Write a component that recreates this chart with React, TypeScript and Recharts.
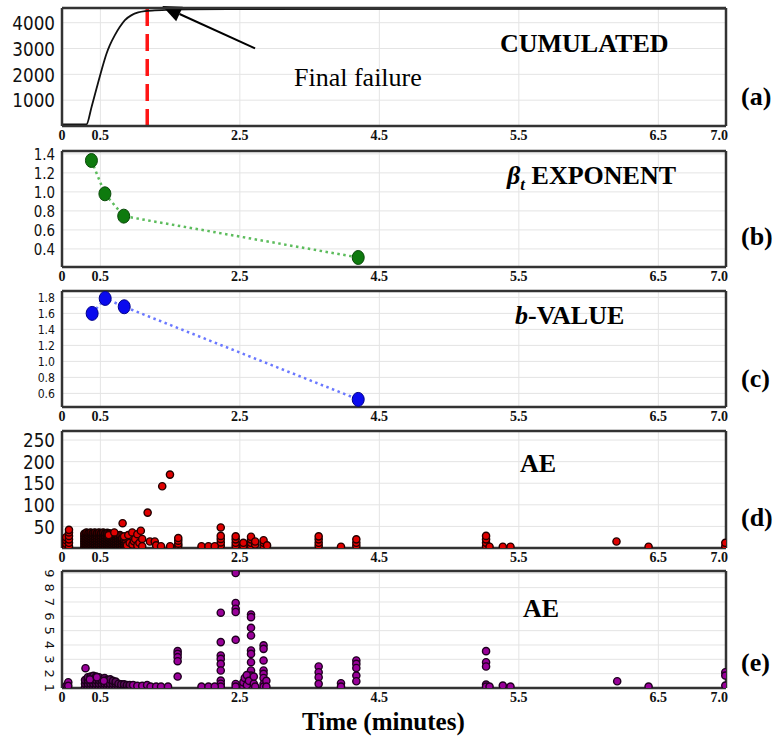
import React from 'react';
import { ComposedChart, Line, Scatter, XAxis, YAxis, CartesianGrid, ReferenceLine } from 'recharts';

// x values are in plot units; printed tick labels are the ones of the paper
const X_DOMAIN: [number, number] = [-0.05, 9.47];
const X_TICKS = [-0.05, 0.5, 2.5, 4.5, 6.5, 8.5, 9.47];
const X_LABELS = ['0', '0.5', '2.5', '4.5', '5.5', '6.5', '7.0'];

// (a) cumulated number of events
const CUM_T = [-0.05, 0.3, 0.374, 0.445, 0.517, 0.589, 0.636, 0.708, 0.78, 0.852, 0.948, 1.043, 1.139, 1.282, 1.76, 2.718, 9.47];
const CUM_N = [58, 58, 740, 1453, 2163, 2810, 3132, 3519, 3841, 4101, 4295, 4399, 4450, 4477, 4516, 4527, 4545];
const FAILURE_T = 1.172;
const ARROW_TAIL = { t: 2.718, v: 3004 };
const ARROW_TIP = { t: 1.387, v: 4643 };

// (b) beta_t exponent
const BETA_T = [0.372, 0.565, 0.835, 4.197];
const BETA_V = [1.33, 0.98, 0.745, 0.31];

// (c) b-value
const BVAL_T = [0.382, 0.569, 0.842, 4.197];
const BVAL_V = [1.6, 1.787, 1.683, 0.525];

// (d) AE amplitude: the dense block right after loading starts
const AE_D_BLOCK: [number, number[]][] = [
  [0.27, [3, 9, 15, 21, 27, 33]],
  [0.3, [2, 8, 14, 20, 26, 32, 36]],
  [0.33, [4, 10, 16, 22, 28, 34]],
  [0.36, [2, 8, 14, 20, 26, 32, 36]],
  [0.39, [4, 10, 16, 22, 28, 34]],
  [0.42, [2, 8, 14, 20, 26, 32, 36]],
  [0.45, [4, 10, 16, 22, 28, 34]],
  [0.48, [2, 8, 14, 20, 26, 32, 36]],
  [0.51, [4, 10, 16, 22, 28, 34]],
  [0.54, [2, 8, 14, 20, 26, 32, 36]],
  [0.57, [4, 10, 16, 22, 28, 34]],
  [0.6, [2, 8, 14, 20, 26, 32, 35]],
  [0.63, [4, 10, 16, 22, 28, 34]],
  [0.66, [2, 8, 14, 20, 26, 32]],
  [0.69, [4, 10, 16, 22, 28, 33]],
  [0.72, [2, 8, 14, 20, 26, 31]],
  [0.75, [4, 10, 16, 22, 28]],
  [0.78, [2, 8, 14, 20, 25, 30]],
  [0.81, [4, 10, 16, 22]],
  [0.84, [2, 8, 14, 19]],
];
// (d) other bursts, as columns, then single hits
const AE_D_BURSTS: [number, number[]][] = [
  [0.01, [3, 10, 18, 25]],
  [0.05, [4, 12, 20, 28, 36, 42]],
  [0.87, [4, 11, 18, 24]],
  [1.617, [5, 10, 17, 23]],
  [2.226, [5.5, 13, 21, 28, 47.6]],
  [2.44, [5, 12, 20, 27]],
  [2.66, [5, 12, 20, 26]],
  [2.84, [5, 12, 18]],
  [3.63, [5, 12, 20, 27]],
  [4.17, [5, 12, 20]],
  [6.03, [4, 12, 20, 28]],
  [9.46, [4, 12]],
];
const AE_D_SINGLE: [number, number][] = [
  [0.819, 57.5], [1.178, 82], [1.387, 143], [1.498, 170], [0.62, 30], [0.7, 36], [0.84, 27],
  [0.88, 6], [0.9, 30], [0.92, 12], [0.957, 36], [0.96, 8], [0.98, 16], [1.0, 21], [1.03, 32],
  [1.03, 6], [1.06, 12], [1.08, 40], [1.1, 21], [1.1, 4], [1.21, 15], [1.28, 15], [1.3, 6],
  [1.37, 4], [1.5, 4], [1.95, 4], [2.05, 4], [2.14, 4], [2.55, 5], [2.55, 12], [2.72, 8],
  [2.72, 15], [2.89, 6], [3.95, 3], [6.08, 3], [6.27, 3], [6.38, 3], [7.9, 15], [8.36, 3],
];

// (e) AE energy: dense block, bursts, single hits
const AE_E_BLOCK: [number, number[]][] = [
  [0.28, [1.05, 1.3, 1.55]],
  [0.32, [1.05, 1.3, 1.55, 1.75]],
  [0.36, [1.05, 1.3, 1.55, 1.8]],
  [0.4, [1.05, 1.3, 1.55, 1.85]],
  [0.44, [1.05, 1.3, 1.55, 1.8]],
  [0.48, [1.05, 1.3, 1.55, 1.75]],
  [0.52, [1.05, 1.3, 1.55]],
  [0.56, [1.05, 1.3, 1.55, 1.7]],
  [0.6, [1.05, 1.3, 1.55]],
  [0.64, [1.05, 1.3, 1.6]],
  [0.68, [1.05, 1.3, 1.5]],
  [0.72, [1.05, 1.3, 1.45]],
  [0.76, [1.05, 1.3]],
  [0.8, [1.05, 1.25]],
  [0.84, [1.05, 1.25]],
  [0.88, [1.05, 1.2]],
  [0.92, [1.05, 1.2]],
];
const AE_E_BURSTS: [number, number[]][] = [
  [1.608, [3.57, 3.38, 3.15, 2.87, 1.8]],
  [2.226, [6.25, 4.2, 3.27, 3.03, 2.68, 2.22, 1.52, 1.3, 1.1]],
  [2.44, [9.02, 6.93, 6.53, 6.3, 4.36, 1.28, 1.1]],
  [2.66, [6.13, 5.94, 5.2, 4.66, 3.62, 3.38, 2.8, 2.22, 1.87, 1.52, 1.17]],
  [2.84, [3.97, 3.73, 2.92, 2.22, 1.99, 1.7, 1.28, 1.1]],
  [3.63, [2.5, 2.1, 1.75, 1.29]],
  [4.17, [2.92, 2.68, 2.4, 1.87, 1.47]],
  [6.03, [3.57, 2.8, 2.5, 1.24, 1.1]],
  [9.46, [2.1, 1.87, 1.17]],
];
const AE_E_SINGLE: [number, number][] = [
  [0.015, 1.17], [0.04, 1.4], [0.04, 1.15], [0.287, 2.38], [0.35, 1.6], [0.45, 1.75], [0.55, 1.5],
  [0.97, 1.2], [1.03, 1.15], [1.1, 1.15], [1.17, 1.2], [1.22, 1.1], [1.3, 1.1], [1.37, 1.1], [1.47, 1.1],
  [1.95, 1.1], [2.05, 1.1], [2.14, 1.1],
  [2.55, 1.1], [2.55, 1.4], [2.57, 1.7], [2.6, 1.2], [2.6, 1.9], [2.63, 1.5], [2.7, 1.3], [2.7, 1.8], [2.72, 1.1],
  [2.88, 1.5], [2.88, 1.1], [3.95, 1.33], [3.95, 1.1],
  [6.08, 1.1], [6.27, 1.17], [6.38, 1.1], [7.91, 1.47], [8.36, 1.1],
];

const zip = (ts: number[], vs: number[]) => ts.map((t, i) => ({ t, v: vs[i] }));
const cols = (c: [number, number[]][]) => c.flatMap(([t, vs]) => vs.map((v) => ({ t, v })));
const pairs = (p: [number, number][]) => p.map(([t, v]) => ({ t, v }));

const cumData = zip(CUM_T, CUM_N);
const betaData = zip(BETA_T, BETA_V);
const bvalData = zip(BVAL_T, BVAL_V);
const ampBlock = cols(AE_D_BLOCK);
const ampOther = [...cols(AE_D_BURSTS), ...pairs(AE_D_SINGLE)];
const enBlock = cols(AE_E_BLOCK);
const enOther = [...cols(AE_E_BURSTS), ...pairs(AE_E_SINGLE)];

const BOX = { stroke: '#333', strokeWidth: 2.5 };
const SERIF = 'Liberation Serif, Times New Roman, serif';

const XTick = (p: any) => {
  const i = X_TICKS.indexOf(p.payload.value);
  const last = i === X_TICKS.length - 1;
  return (
    <text x={last ? p.x + 2 : p.x} y={p.y + 14} textAnchor={last ? 'end' : 'middle'}
      fontFamily={SERIF} fontWeight="bold" fontSize={14} fill="#111">
      {X_LABELS[i]}
    </text>
  );
};

const makeYTick = (fmt: (v: number) => string, size = 20, rotate = false) => (p: any) => {
  if (rotate) {
    return (
      <text transform={`translate(${p.x - 12},${p.y}) rotate(90)`} textAnchor="middle" dy="0.35em"
        fontFamily="DejaVu Sans" fontSize={size} fill="#111">{fmt(p.payload.value)}</text>
    );
  }
  return (
    <g transform={`translate(${p.x - 7},${p.y})`}>
      <text transform="scale(0.84,1)" textAnchor="end" dy="0.36em" fontFamily="DejaVu Sans" fontSize={size} fill="#111">
        {fmt(p.payload.value)}
      </text>
    </g>
  );
};

function frame(yDomain: [number, number], yTicks: number[], tick: any) {
  return [
    <CartesianGrid key="g" stroke="#e4e4e4" strokeWidth={1} />,
    <XAxis key="x" dataKey="t" type="number" domain={X_DOMAIN} ticks={X_TICKS} interval={0} allowDataOverflow
      height={22} tickSize={0} tickMargin={0} tickLine={false} axisLine={BOX} tick={<XTick />} />,
    <XAxis key="xt" xAxisId="top" orientation="top" mirror type="number" domain={X_DOMAIN} allowDataOverflow
      height={10} tick={false} tickLine={false} axisLine={BOX} />,
    <YAxis key="y" dataKey="v" type="number" domain={yDomain} ticks={yTicks} interval={0} allowDataOverflow
      width={62} tickSize={0} tickMargin={0} tickLine={false} axisLine={BOX} tick={tick} />,
    <YAxis key="yl" yAxisId="li" orientation="left" mirror type="number" domain={yDomain} ticks={yTicks} interval={0}
      allowDataOverflow width={10} tick={false} axisLine={false} tickSize={5} tickLine={{ stroke: '#333' }} />,
    <YAxis key="yr" yAxisId="r" orientation="right" mirror type="number" domain={yDomain} ticks={yTicks} interval={0}
      allowDataOverflow width={10} tick={false} axisLine={BOX} tickSize={5} tickLine={{ stroke: '#333' }} />,
  ];
}

const MARGIN = { top: 12, right: 51, bottom: 0, left: 0 };

const ArrowShape = (p: any) => {
  const { x1, y1, x2, y2 } = p;
  const len = Math.hypot(x2 - x1, y2 - y1);
  const ux = (x2 - x1) / len;
  const uy = (y2 - y1) / len;
  const bx = x2 - ux * 19;
  const by = y2 - uy * 19;
  return (
    <g>
      <line x1={x1} y1={y1} x2={bx} y2={by} stroke="#000" strokeWidth={2} />
      <polygon points={`${x2},${y2} ${bx - uy * 8},${by + ux * 8} ${bx + uy * 8},${by - ux * 8}`} fill="#000" />
    </g>
  );
};

const dotShape = (fill: string, edge: string) => (p: any) =>
  <ellipse key={`d${p.index}`} cx={p.cx} cy={p.cy} rx={6} ry={7} fill={fill} stroke={edge} strokeWidth={1} />;

const aeShape = (fill: string, edge: string) => (p: any) =>
  <circle cx={p.cx} cy={p.cy} r={3.6} fill={fill} stroke={edge} strokeWidth={1.4} />;

const abs = (top: number): React.CSSProperties => ({ position: 'absolute', left: 0, top });
const txt = (left: number, top: number, size: number, bold = true): React.CSSProperties => ({
  position: 'absolute', left, top, fontSize: size, lineHeight: 1, fontWeight: bold ? 'bold' : 'normal',
  fontFamily: SERIF, color: '#000', whiteSpace: 'nowrap',
});

export default function App() {
  return (
    <div style={{ position: 'absolute', left: 0, top: 0, width: 777, height: 736, background: '#fff', overflow: 'hidden' }}>
      <div style={abs(-4)}>
        <ComposedChart width={777} height={152} data={cumData} margin={MARGIN}>
          {frame([0, 4570], [1000, 2000, 3000, 4000], makeYTick((v) => String(v)))}
          <ReferenceLine x={FAILURE_T} stroke="#ff1414" strokeWidth={3.5} strokeDasharray="17 8" />
          <Line dataKey="v" type="monotone" stroke="#111" strokeWidth={1.8} dot={false} isAnimationActive={false} />
          <ReferenceLine segment={[{ x: ARROW_TAIL.t, y: ARROW_TAIL.v }, { x: ARROW_TIP.t, y: ARROW_TIP.v }]}
            ifOverflow="visible" shape={ArrowShape} />
        </ComposedChart>
      </div>
      <div style={abs(139)}>
        <ComposedChart width={777} height={150} data={betaData} margin={MARGIN}>
          {frame([0.21, 1.43], [0.4, 0.6, 0.8, 1.0, 1.2, 1.4], makeYTick((v) => v.toFixed(1), 16))}
          <Line dataKey="v" type="linear" stroke="#5cbc5c" strokeWidth={2.5} strokeDasharray="2.5 3.5"
            dot={dotShape('#0e7a0e', '#0a4a0a')} isAnimationActive={false} />
        </ComposedChart>
      </div>
      <div style={abs(279)}>
        <ComposedChart width={777} height={150} data={bvalData} margin={MARGIN}>
          {frame([0.43, 1.88], [0.6, 0.8, 1.0, 1.2, 1.4, 1.6, 1.8], makeYTick((v) => v.toFixed(1), 13))}
          <Line dataKey="v" type="linear" stroke="#6a78ff" strokeWidth={2.5} strokeDasharray="2.5 3.5"
            dot={dotShape('#0a0aee', '#00008a')} isAnimationActive={false} />
        </ComposedChart>
      </div>
      <div style={abs(419)}>
        <ComposedChart width={777} height={151} margin={MARGIN}>
          {frame([0, 271], [50, 100, 150, 200, 250], makeYTick((v) => String(v)))}
          <Scatter data={ampBlock} dataKey="v" shape={aeShape('#4a0000', '#140000')} isAnimationActive={false} />
          <Scatter data={ampOther} dataKey="v" shape={aeShape('#e00000', '#220000')} isAnimationActive={false} />
        </ComposedChart>
      </div>
      <div style={abs(559)}>
        <ComposedChart width={777} height={151} margin={MARGIN}>
          {frame([1, 9.16], [1, 2, 3, 4, 5, 6, 7, 8, 9], makeYTick((v) => String(v), 13, true))}
          <Scatter data={enBlock} dataKey="v" shape={aeShape('#5a0a5a', '#1a001a')} isAnimationActive={false} />
          <Scatter data={enOther} dataKey="v" shape={aeShape('#990099', '#1e001e')} isAnimationActive={false} />
        </ComposedChart>
      </div>

      <div style={txt(500, 31, 26)}>CUMULATED</div>
      <div style={txt(294, 65, 26, false)}>Final failure</div>
      <div style={txt(507, 163, 26)}>
        <i>β</i><i style={{ fontSize: 17, position: 'relative', top: 6 }}>t</i> EXPONENT
      </div>
      <div style={txt(515, 303, 26)}><i>b</i>-VALUE</div>
      <div style={txt(520, 451, 26)}>AE</div>
      <div style={txt(523, 596, 26)}>AE</div>
      <div style={txt(741, 84, 26)}>(a)</div>
      <div style={txt(741, 224, 26)}>(b)</div>
      <div style={txt(741, 366, 26)}>(c)</div>
      <div style={txt(741, 505, 26)}>(d)</div>
      <div style={txt(741, 650, 26)}>(e)</div>
      <div style={txt(302, 709, 25)}>Time (minutes)</div>
    </div>
  );
}
